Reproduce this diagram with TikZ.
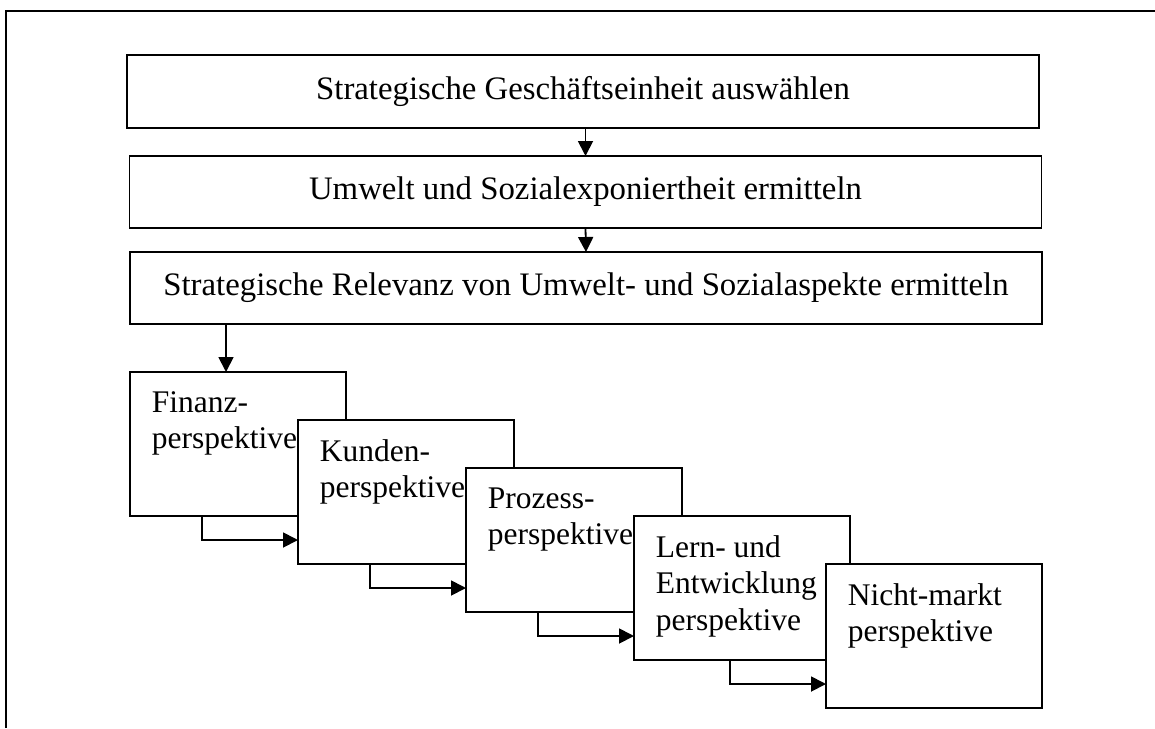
\documentclass[tikz,border=0pt]{standalone}
\usepackage{fontspec}
\setmainfont{Liberation Serif}
\usetikzlibrary{arrows.meta}
\begin{document}
\begin{tikzpicture}[x=1pt,y=-1pt,line width=1.8pt,
  topbox/.style={draw,fill=white,minimum width=912pt,minimum height=72pt,inner sep=0pt,outer sep=0pt,
    font=\fontsize{32.8}{38}\selectfont},
  pbox/.style={draw,fill=white,minimum width=216pt,minimum height=144pt,inner sep=0pt,outer sep=0pt,anchor=north west},
  plabel/.style={anchor=north west,inner sep=0pt,align=left,xshift=21pt,yshift=-18.5pt,
    font=\fontsize{31.5}{36.5}\selectfont},
  arr/.style={-{Triangle[length=15pt,width=15pt]}}]
\useasboundingbox (0,0) rectangle (1155,728);
\draw (6,728) -- (6,11) -- (1155,11);
\node[topbox,minimum height=73pt] (b1) at (583,91.5) {Strategische Geschäftseinheit auswählen};
\node[topbox] (b2) at (585.5,192) {Umwelt und Sozialexponiertheit ermitteln};
\node[topbox] (b3) at (586,288) {Strategische Relevanz von Umwelt- und Sozialaspekte ermitteln};
\draw[arr] (b1.south -| b2.north) -- (b2.north);
\draw[arr] (b2.south) -- (b3.north);
\node[pbox] (F) at (130,372) {};
\node[plabel] (Ft) at (F.north west) {Finanz-\\perspektive};
\node[pbox] (K) at (298,420) {};
\node[plabel] (Kt) at (K.north west) {Kunden-\\perspektive};
\node[pbox] (P) at (466,468) {};
\node[plabel] (Pt) at (P.north west) {Prozess-\\perspektive};
\node[pbox] (L) at (634,516) {};
\node[plabel] (Lt) at (L.north west) {Lern- und\\Entwicklung\\perspektive};
\node[pbox] (N) at (826,564) {};
\node[plabel] (Nt) at (N.north west) {Nicht-markt\\perspektive};
\draw[arr] ([xshift=96pt]F.north west |- b3.south) -- ([xshift=96pt]F.north west);
\draw[arr] ([xshift=72pt]F.south west) |- ([yshift=24pt]K.south west);
\draw[arr] ([xshift=72pt]K.south west) |- ([yshift=24pt]P.south west);
\draw[arr] ([xshift=72pt]P.south west) |- ([yshift=24pt]L.south west);
\draw[arr] ([xshift=96pt]L.south west) |- ([yshift=24pt]N.south west);
\end{tikzpicture}
\end{document}
